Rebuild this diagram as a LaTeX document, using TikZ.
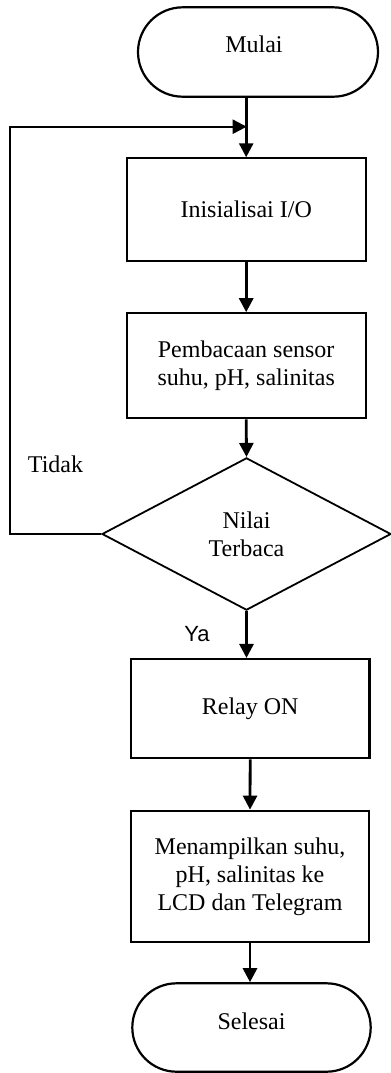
\documentclass[tikz,border=0pt]{standalone}
\usepackage{fontspec}
\setmainfont{Liberation Serif}
\newfontfamily\arialfont{Liberation Sans}
\usetikzlibrary{arrows.meta,shapes.geometric,shapes.misc}
\tikzset{
  base/.style={draw=black, line width=1.1pt, inner sep=0pt, align=center,
    font=\fontsize{12}{14}\selectfont},
  term/.style={base, rounded rectangle},
  proc/.style={base, rectangle},
  decide/.style={base, diamond, line width=0.9pt},
  conn/.style={line width=1.4pt, -{Triangle[length=7pt,width=7pt]}},
  loopline/.style={line width=1.1pt, -{Triangle[length=7pt,width=7pt]}},
  lbl/.style={inner sep=0pt, font=\fontsize{12}{14}\selectfont}
}
\begin{document}
\begin{tikzpicture}[x=0.5pt,y=-0.5pt]
\useasboundingbox (0,0) rectangle (391,1073);
\node[term, minimum width=120pt, minimum height=44.7pt,
  label={[lbl, yshift=3.7pt, xshift=-2pt]center:Mulai}] (start) at (258,52) {};
\node[proc, minimum width=119.5pt, minimum height=51.35pt] (init) at (246.2,209.7) {Inisialisai I/O};
\node[proc, minimum width=119.5pt, minimum height=52.5pt] (read) at (246.2,365.8) {Pembacaan sensor\\suhu, pH, salinitas};
\node[decide, minimum width=144.5pt, minimum height=76.15pt] (dec) at (246.5,534) {Nilai\\Terbaca};
\node[proc, minimum width=119.2pt, minimum height=49.65pt] (relay) at (250.2,708.7) {Relay ON};
\node[proc, minimum width=119.2pt, minimum height=65.8pt] (show) at (250,876.5) {Menampilkan suhu,\\pH, salinitas ke\\LCD dan Telegram};
\node[term, minimum width=119.2pt, minimum height=44.2pt,
  label={[lbl, yshift=3pt]center:Selesai}] (end) at (251.5,1027.5) {};

\node[lbl] (tidak) at (55.5,464) {Tidak};
\node[inner sep=0pt, font=\arialfont\fontsize{11}{13}\selectfont] (ya) at (197,634) {Ya};

\coordinate (loopL) at (10,126.7);
\coordinate (join) at (246.7,126.7);

\draw[conn] (init.north |- start.south) -- (init.north);
\draw[loopline] (dec.west) -| (loopL) -- (join);
\draw[conn] (init.south) -- (read.north);
\draw[conn] (read.south) -- (dec.north);
\draw[conn] (dec.south) -- (dec.south |- relay.north);
\draw[conn] (relay.south) -- (show.north);
\draw[conn] (show.south) -- (show.south |- end.north);
\end{tikzpicture}
\end{document}
